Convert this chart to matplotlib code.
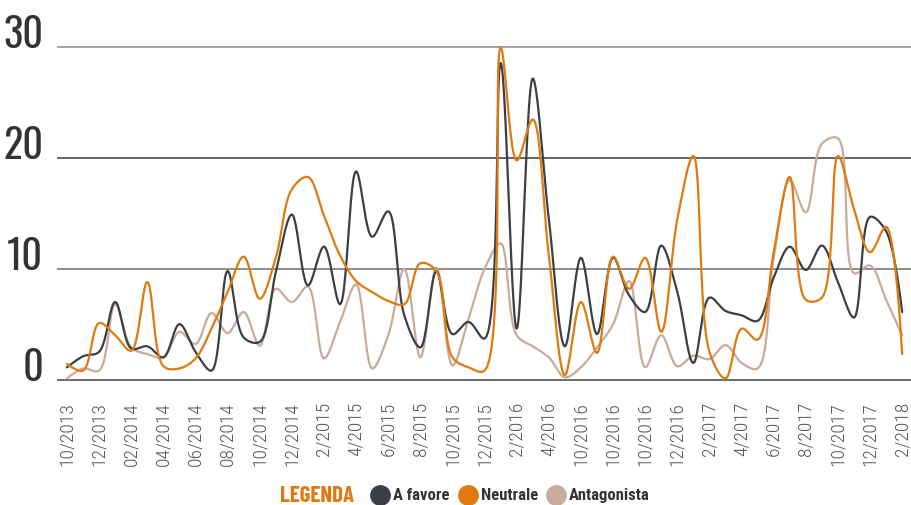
import numpy as np
import matplotlib.pyplot as plt

# monthly values, 10/2013 .. 2/2018
a_favore = [1.1, 2.1, 2.5, 7.0, 2.8, 3.0, 2.0, 5.0, 2.5, 0.8,
            9.8, 3.8, 3.4, 9.7, 14.9, 8.5, 12.0, 6.8, 18.8, 12.9,
            15.2, 5.8, 2.9, 9.8, 4.1, 5.2, 3.7, 28.6, 4.6, 27.2,
            14.5, 3.0, 11.0, 4.1, 11.0, 7.6, 6.1, 12.1, 7.9, 1.5,
            7.4, 6.2, 5.8, 5.3, 9.2, 12.0, 9.9, 12.1, 8.8, 5.6,
            14.7, 13.4, 6.1]
neutrale = [1.4, 0.8, 5.1, 4.0, 2.6, 8.8, 1.2, 1.0, 1.9, 4.6,
            7.9, 11.1, 7.3, 11.0, 17.2, 18.3, 14.8, 11.2, 8.9, 7.9,
            7.1, 6.8, 10.5, 9.8, 2.0, 1.1, 0.8, 30.0, 19.8, 23.5,
            11.2, 0.4, 7.0, 2.4, 11.1, 8.2, 11.0, 4.3, 14.5, 20.2,
            2.5, 0.1, 4.6, 3.6, 11.5, 18.3, 7.2, 7.4, 20.2, 15.4,
            11.5, 13.8, 2.3]
antagonista = [0.1, 1.0, 0.8, 6.8, 2.9, 2.3, 2.0, 4.3, 3.2, 6.0,
               4.2, 6.1, 3.05, 8.2, 7.0, 8.4, 1.9, 5.2, 8.6, 1.0,
               4.0, 10.0, 2.0, 10.1, 1.25, 5.5, 10.0, 12.3, 4.0, 3.0,
               2.0, 0.2, 1.1, 2.9, 5.0, 8.9, 1.1, 4.0, 1.2, 2.15,
               1.85, 3.1, 1.5, 1.0, 11.0, 18.0, 15.1, 21.3, 21.8, 9.6,
               10.3, 7.2, 4.0]

tick_labels = ['10/2013', '12/2013', '02/2014', '04/2014', '06/2014', '08/2014',
               '10/2014', '12/2014', '2/2015', '4/2015', '6/2015', '8/2015',
               '10/2015', '12/2015', '2/2016', '4/2016', '10/2016', '10/2016',
               '10/2016', '12/2016', '2/2017', '4/2017', '6/2017', '8/2017',
               '10/2017', '12/2017', '2/2018']
y_ticks = [0, 10, 20, 30]

series = [('Antagonista', antagonista, '#c9ab9b'),
          ('A favore', a_favore, '#3a4045'),
          ('Neutrale', neutrale, '#e07a10')]

NUM_FONT = ['Oswald', 'Roboto Condensed', 'DejaVu Sans']
LABEL_FONT = ['Roboto Condensed', 'DejaVu Sans']
TITLE_FONT = ['Barlow Condensed', 'Roboto Condensed', 'DejaVu Sans']


def catmull_rom(values, sx=16.06, sy=11.07, alpha=0.5, steps=24):
    # centripetal catmull-rom through the points, worked out in pixel space
    pts = np.column_stack([np.arange(len(values)) * sx, np.asarray(values, float) * sy])
    n = len(pts)
    t = np.linspace(0, 1, steps)[1:, None]
    out = [pts[:1]]
    for i in range(n - 1):
        p1, p2 = pts[i], pts[i + 1]
        p0 = pts[i - 1] if i > 0 else p1
        p3 = pts[i + 2] if i + 2 < n else p2
        d01, d12, d23 = (np.hypot(*(p1 - p0)), np.hypot(*(p2 - p1)), np.hypot(*(p3 - p2)))
        l01a, l12a, l23a = d01 ** alpha, d12 ** alpha, d23 ** alpha
        l01_2a, l12_2a, l23_2a = d01 ** (2 * alpha), d12 ** (2 * alpha), d23 ** (2 * alpha)
        c1, c2 = p1, p2
        if l01a > 1e-9:
            a = 2 * l01_2a + 3 * l01a * l12a + l12_2a
            c1 = (p1 * a - p0 * l12_2a + p2 * l01_2a) / (3 * l01a * (l01a + l12a))
        if l23a > 1e-9:
            b = 2 * l23_2a + 3 * l23a * l12a + l12_2a
            c2 = (p2 * b + p1 * l23_2a - p3 * l12_2a) / (3 * l23a * (l23a + l12a))
        seg = ((1 - t) ** 3 * p1 + 3 * (1 - t) ** 2 * t * c1
               + 3 * (1 - t) * t ** 2 * c2 + t ** 3 * p2)
        out.append(seg)
    curve = np.vstack(out)
    return curve[:, 0] / sx, curve[:, 1] / sy


fig = plt.figure(figsize=(9.11, 5.06), dpi=100)
ax = fig.add_axes([57 / 911, 111 / 506, 854 / 911, 365 / 506])

# gridlines
grid_colors = {0: '#444444', 10: '#6e6e6e', 20: '#3a3a3a', 30: '#8c8c8c'}
for v in y_ticks:
    ax.axhline(v, color=grid_colors[v], lw=1.1, zorder=1)

for name, vals, col in series:
    xs, ys = catmull_rom(vals)
    ax.plot(xs, ys, color=col, lw=1.6, solid_capstyle='round', zorder=3)

ax.set_xlim(-0.623, 52.55)
ax.set_ylim(-1.31, 31.67)

for s in ax.spines.values():
    s.set_visible(False)

ax.set_yticks(y_ticks)
ax.set_yticklabels([str(v) for v in y_ticks], fontsize=29, color='#333333',
                   family=NUM_FONT)
for lab in ax.get_yticklabels():
    lab.set_va('baseline')
ax.tick_params(axis='y', length=0, pad=10)

ax.set_xticks(range(0, 53, 2))
ax.set_xticklabels(tick_labels, rotation=90, fontsize=14, color='#555555',
                   family=LABEL_FONT, fontweight='light')
ax.tick_params(axis='x', length=0, pad=5)

# legend row
ly = 1 - 496 / 506
fig.text(280 / 911, ly, 'LEGENDA', color='#e07a10', fontsize=16.5,
         fontweight='bold', va='center', ha='left', family=TITLE_FONT)
legend_items = [('A favore', '#3a4045', 380, 393),
                ('Neutrale', '#e07a10', 468, 481),
                ('Antagonista', '#c9ab9b', 556, 569)]
for label, col, cx, tx in legend_items:
    fig.lines.append(plt.Line2D([cx / 911], [ly], marker='o', markersize=14,
                                color=col, transform=fig.transFigure))
    fig.text(tx / 911, ly, label, color='#333333', fontsize=12,
             fontweight='bold', va='center', ha='left', family=LABEL_FONT)

fig.savefig('out.png', dpi=100)
